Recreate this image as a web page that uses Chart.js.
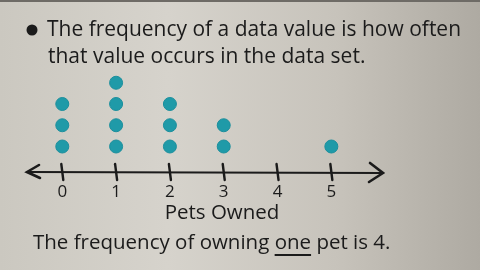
<!DOCTYPE html>
<html>
<head>
<meta charset="utf-8">
<script src="https://cdn.jsdelivr.net/npm/chart.js@4.4.1/dist/chart.umd.min.js"></script>
<style>
  html, body { margin: 0; padding: 0; background: #cfccc5; }
  canvas { display: block; }
</style>
</head>
<body>
<canvas id="grafico" width="480" height="270"></canvas>
<script>
// Dados do gráfico de pontos
const petsOwned = [0, 1, 2, 3, 4, 5];          // valores no eixo
const frequencies = [3, 4, 3, 2, 0, 1];        // quantos pontos em cada valor
const tickLabels = ['0', '1', '2', '3', '4', '5'];
const titleLines = ['The frequency of a data value is how often', 'that value occurs in the data set.'];
const axisTitle = 'Pets Owned';
const footerParts = ['The frequency of owning ', 'one', ' pet is 4.'];

// um ponto por ocorrência, empilhado
const points = [];
petsOwned.forEach((v, i) => {
  for (let k = 1; k <= frequencies[i]; k++) points.push({ x: v, y: k });
});

const ink = '#1b1b1b';
const handFont = '"Open Sans", "Noto Sans", sans-serif';

// fundo de papel/quadro
const fundo = {
  id: 'fundo',
  beforeDraw(chart) {
    const ctx = chart.ctx;
    const g = ctx.createLinearGradient(0, 0, chart.width, 0);
    g.addColorStop(0, '#cbc8c0');
    g.addColorStop(0.35, '#d6d3cc');
    g.addColorStop(0.7, '#c7c3bb');
    g.addColorStop(1, '#aeaaa2');
    ctx.save();
    ctx.fillStyle = g;
    ctx.fillRect(0, 0, chart.width, chart.height);
    ctx.fillStyle = '#6e6b66';
    ctx.fillRect(0, 0, chart.width, 2);
    ctx.restore();
  }
};

// reta numérica com setas e marcas
const retaNumerica = {
  id: 'retaNumerica',
  beforeDatasetsDraw(chart) {
    const ctx = chart.ctx;
    const x = chart.scales.x;
    const y0 = chart.chartArea.bottom;
    const left = chart.chartArea.left - 3, right = chart.chartArea.right;
    ctx.save();
    ctx.strokeStyle = ink;
    ctx.lineWidth = 2.2;
    ctx.lineCap = 'round';
    ctx.beginPath();
    ctx.moveTo(left, y0);
    ctx.lineTo(right, y0 + 1);
    ctx.stroke();
    // setas
    ctx.lineWidth = 2.6;
    ctx.beginPath();
    ctx.moveTo(left + 12, y0 - 7);
    ctx.lineTo(left, y0);
    ctx.lineTo(left + 13, y0 + 6);
    ctx.moveTo(right - 13, y0 - 9);
    ctx.lineTo(right, y0 + 1);
    ctx.lineTo(right - 14, y0 + 10);
    ctx.stroke();
    // marcas
    ctx.lineWidth = 2.4;
    petsOwned.forEach(v => {
      const px = x.getPixelForValue(v);
      ctx.beginPath();
      ctx.moveTo(px - 1, y0 - 8);
      ctx.lineTo(px + 1, y0 + 8);
      ctx.stroke();
    });
    // rótulos
    ctx.fillStyle = ink;
    ctx.font = '17px ' + handFont;
    ctx.textAlign = 'center';
    ctx.textBaseline = 'middle';
    petsOwned.forEach((v, i) => {
      ctx.fillText(tickLabels[i], x.getPixelForValue(v), y0 + 20);
    });
    ctx.restore();
  },
  afterDraw(chart) {
    const ctx = chart.ctx;
    ctx.save();
    ctx.fillStyle = ink;
    ctx.strokeStyle = ink;
    // marcador
    ctx.beginPath();
    ctx.arc(32, 30, 5.5, 0, Math.PI * 2);
    ctx.fill();
    ctx.textBaseline = 'middle';
    ctx.textAlign = 'left';
    ctx.font = '21px ' + handFont;
    ctx.fillText(titleLines[0], 47, 30, 414);
    ctx.fillText(titleLines[1], 48, 57);
    // título do eixo
    ctx.textAlign = 'center';
    ctx.font = '20.5px ' + handFont;
    ctx.fillText(axisTitle, 222, 213);
    // frase final com "one" sublinhado
    ctx.textAlign = 'left';
    ctx.font = '20.5px ' + handFont;
    let px = 33;
    footerParts.forEach((t, i) => {
      ctx.fillText(t, px, 243);
      const w = ctx.measureText(t).width;
      if (i === 1) {
        ctx.lineWidth = 1.8;
        ctx.beginPath();
        ctx.moveTo(px, 255);
        ctx.lineTo(px + w, 255);
        ctx.stroke();
      }
      px += w;
    });
    ctx.restore();
  }
};

new Chart(document.getElementById('grafico'), {
  type: 'scatter',
  data: {
    datasets: [{
      label: 'Pets Owned',
      data: points,
      backgroundColor: '#1f9aa8',
      borderColor: '#1b8f9d',
      borderWidth: 1,
      pointRadius: 6.5,
      pointHoverRadius: 6.5
    }]
  },
  options: {
    responsive: false,
    devicePixelRatio: 1,
    animation: false,
    clip: false,
    layout: { padding: { left: 30, right: 97, top: 70, bottom: 98 } },
    scales: {
      x: { type: 'linear', min: -0.6, max: 5.96, display: false },
      y: { min: -0.2, max: 4.6, display: false }
    },
    plugins: {
      legend: { display: false },
      tooltip: { enabled: false }
    }
  },
  plugins: [fundo, retaNumerica]
});
</script>
</body>
</html>
